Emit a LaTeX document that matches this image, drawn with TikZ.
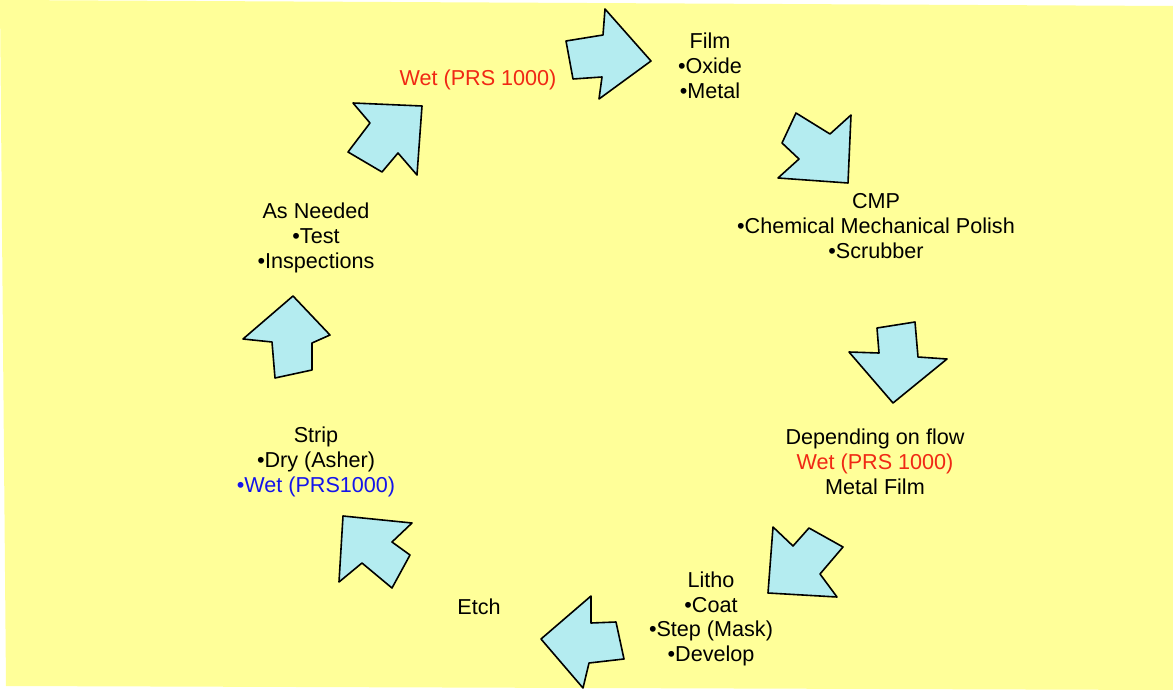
\documentclass[tikz,border=0pt]{standalone}
\usepackage{fontspec}
\setmainfont{Liberation Sans}
\definecolor{bgyellow}{RGB}{255,255,153}
\definecolor{arrowfill}{RGB}{180,236,240}
\definecolor{txtred}{RGB}{240,40,20}
\definecolor{txtblue}{RGB}{20,20,235}
\tikzset{
  blockarrow/.style={fill=arrowfill, draw=black, line width=1.6pt, line join=round},
  label/.style={align=center, inner sep=0pt, font=\fontsize{21.6}{24.8}\selectfont, text=black},
}
\begin{document}
\begin{tikzpicture}[x=1pt,y=-1pt]
\useasboundingbox (0,0) rectangle (1173,690);
\fill[white] (0,0) rectangle (1173,690);
\fill[bgyellow] (0,0) -- (1173,6) -- (1173,690) -- (6,686) -- cycle;

% block arrows
\draw[blockarrow] (566,41) -- (603,35) -- (605,9) -- (651,61) -- (599,99) -- (602,77) -- (573,79) -- cycle;
\draw[blockarrow] (848,183) -- (851,115) -- (830,134) -- (796,113) -- (782,143) -- (799,159) -- (778,178) -- cycle;
\draw[blockarrow] (877,328) -- (915,322) -- (918,357) -- (947,359) -- (893,403) -- (849,352) -- (879,353) -- cycle;
\draw[blockarrow] (768,593) -- (773,527) -- (793,546) -- (809,528) -- (843,547) -- (820,574) -- (837,597) -- cycle;
\draw[blockarrow] (541,639) -- (591,596) -- (591,623) -- (616,622) -- (624,659) -- (589,663) -- (583,688) -- cycle;
\draw[blockarrow] (343,516) -- (412,523) -- (392,542) -- (410,555) -- (392,588) -- (362,563) -- (339,582) -- cycle;
\draw[blockarrow] (293,296) -- (330,335) -- (312,343) -- (312,370) -- (275,378) -- (272,342) -- (243,339) -- cycle;
\draw[blockarrow] (353,103) -- (422,106) -- (417,175) -- (398,153) -- (382,172) -- (348,152) -- (370,123) -- cycle;

% labels
\node[label, text=txtred] (wet1) at (478,80) {Wet (PRS 1000)};
\node[label] (film) at (710,66) {Film\\•Oxide\\•Metal};
\node[label] (cmp) at (876,226) {CMP\\•Chemical Mechanical Polish\\•Scrubber};
\node[label] (dep) at (875,462) {Depending on flow\\\textcolor{txtred}{Wet (PRS 1000)}\\Metal Film};
\node[label] (litho) at (711,619) {Litho\\•Coat\\•Step (Mask)\\•Develop};
\node[label] (etch) at (479,607) {Etch};
\node[label] (strip) at (316,462) {Strip\\•Dry (Asher)\\\textcolor{txtblue}{•Wet (PRS1000)}};
\node[label] (asneeded) at (316,238) {As Needed\\•Test\\•Inspections};
\end{tikzpicture}
\end{document}
